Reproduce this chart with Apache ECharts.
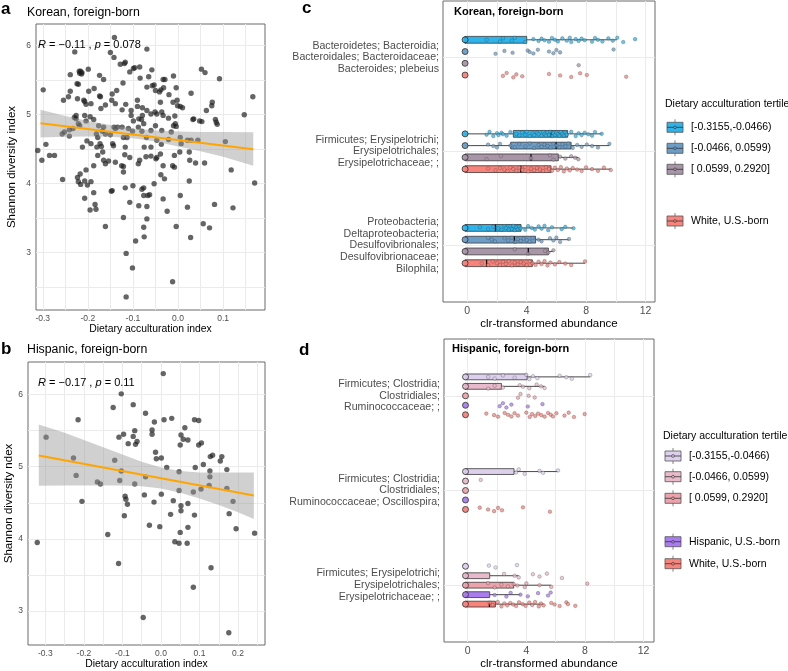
<!DOCTYPE html>
<html><head><meta charset="utf-8">
<script src="https://cdn.jsdelivr.net/npm/echarts@6/dist/echarts.min.js"></script>
<style>html,body{margin:0;padding:0;background:#fff}#c{width:788px;height:671px}</style>
</head><body><div id="c"></div>
<script>
// ---------------- DATA ----------------
// Panel a: Korean, foreign-born  [dietary acculturation index, Shannon diversity]
const koreanPoints = [
[-0.141,6.12],[-0.229,5.91],[-0.150,5.90],[-0.069,5.95],[-0.142,5.83],[-0.128,5.73],[-0.119,5.74],[-0.117,5.76],
[-0.099,5.67],[-0.096,5.68],[-0.107,5.62],[-0.199,5.66],[-0.239,5.58],[-0.219,5.63],[-0.216,5.63],[-0.213,5.61],
[-0.218,5.60],[-0.214,5.59],[-0.085,5.69],[-0.058,5.65],[-0.174,5.57],[-0.165,5.51],[-0.065,5.55],[-0.069,5.40],
[-0.084,5.53],[0.052,5.66],[0.060,5.61],[0.092,5.52],[-0.010,5.56],[-0.033,5.51],[-0.029,5.51],[-0.224,5.45],
[-0.221,5.44],[-0.186,5.38],[-0.239,5.34],[-0.299,5.36],[-0.136,5.35],[-0.146,5.30],[-0.122,5.46],[-0.053,5.43],
[-0.057,5.42],[-0.050,5.35],[-0.038,5.36],[-0.041,5.33],[-0.032,5.39],[-0.004,5.39],[-0.020,5.29],[0.029,5.31],
[-0.198,5.34],[-0.174,5.27],[-0.172,5.26],[-0.254,5.21],[-0.243,5.26],[-0.223,5.23],[-0.209,5.21],[-0.207,5.19],
[-0.193,5.16],[-0.161,5.14],[-0.147,5.21],[-0.139,5.16],[-0.116,5.15],[-0.090,5.21],[-0.090,5.12],[-0.171,5.09],
[-0.204,5.15],[-0.079,5.10],[-0.060,5.01],[-0.069,5.06],[-0.039,5.18],[-0.001,5.13],[0.005,5.12],[-0.002,5.21],
[-0.011,5.18],[0.010,5.10],[0.075,5.13],[0.076,5.18],[0.063,5.06],[-0.124,5.07],[-0.051,5.04],[-0.047,5.01],
[-0.104,5.06],[-0.104,4.99],[-0.079,4.99],[-0.099,4.91],[-0.081,4.93],[-0.036,5.04],[-0.033,4.99],[-0.021,4.95],
[-0.007,4.98],[0.033,4.93],[0.048,4.91],[0.147,5.00],[0.166,5.26],[0.083,4.93],[0.085,4.89],[0.087,4.86],
[-0.226,4.99],[-0.207,4.99],[-0.204,4.91],[-0.226,4.94],[-0.230,4.96],[-0.221,4.87],[-0.218,4.84],[-0.195,4.97],
[-0.187,4.93],[-0.176,4.84],[-0.212,4.53],[-0.257,4.72],[-0.252,4.75],[-0.241,4.78],[-0.233,4.80],[-0.165,4.82],
[-0.168,4.76],[-0.161,4.72],[-0.181,4.72],[-0.178,4.67],[-0.150,4.71],[-0.139,4.80],[-0.142,4.82],[-0.134,4.82],
[-0.124,4.82],[-0.121,4.67],[-0.110,4.80],[-0.101,4.76],[-0.088,4.82],[-0.080,4.76],[-0.076,4.87],[-0.087,4.94],
[-0.070,4.67],[-0.060,4.77],[-0.050,4.84],[-0.036,4.77],[-0.047,4.63],[-0.037,4.57],[-0.021,4.64],[-0.015,4.75],
[-0.010,4.84],[-0.006,4.87],[-0.004,4.83],[0.005,4.67],[0.007,4.58],[0.021,4.63],[0.029,4.63],[0.044,4.63],
[0.035,4.94],[0.053,4.90],[0.105,4.61],[-0.113,4.67],[-0.145,4.58],[-0.143,4.55],[-0.173,4.58],[-0.170,4.54],
[-0.193,4.58],[-0.180,4.53],[-0.202,4.62],[-0.241,4.69],[-0.293,4.57],[-0.311,4.48],[-0.302,4.34],[-0.285,4.41],
[-0.274,4.41],[-0.178,4.41],[-0.165,4.34],[-0.161,4.29],[-0.154,4.33],[-0.187,4.26],[-0.167,4.46],[-0.139,4.31],
[-0.125,4.26],[-0.121,4.25],[-0.118,4.42],[-0.107,4.38],[-0.121,4.17],[-0.117,4.53],[-0.088,4.29],[-0.085,4.34],
[-0.075,4.53],[-0.071,4.39],[-0.060,4.40],[-0.049,4.36],[-0.047,4.38],[-0.039,4.43],[-0.060,4.53],[-0.033,4.26],
[-0.038,4.13],[-0.030,4.07],[-0.008,4.41],[-0.012,4.26],[-0.008,4.24],[0.004,4.46],[0.025,4.46],[0.026,4.34],
[0.039,4.30],[-0.217,4.14],[-0.223,4.09],[-0.221,4.03],[-0.207,4.04],[-0.204,4.20],[-0.256,4.06],[-0.216,3.99],
[-0.201,3.98],[-0.193,4.03],[-0.187,3.87],[-0.207,3.79],[-0.184,3.70],[-0.195,3.62],[-0.182,3.63],[-0.148,3.89],
[-0.146,3.90],[-0.117,3.94],[-0.100,3.97],[-0.107,3.73],[-0.161,3.38],[-0.121,3.51],[-0.087,3.68],[-0.080,3.92],
[-0.076,3.94],[-0.069,3.67],[-0.076,3.83],[-0.067,3.83],[-0.063,3.84],[-0.053,4.00],[-0.069,3.49],[-0.076,3.37],
[-0.094,3.17],[-0.075,3.23],[-0.115,2.99],[-0.101,2.78],[-0.115,2.36],[-0.012,2.58],[-0.033,3.78],[-0.024,3.60],
[-0.004,3.38],[0.005,3.83],[0.021,3.66],[0.025,4.04],[0.028,3.22],[0.059,4.30],[0.081,3.70],[0.056,3.42],
[0.070,3.36],[0.122,3.65],[0.118,4.20],[0.170,4.01]
];
const koreanFit = [[-0.305,4.875],[0.167,4.50]];
const koreanBandX  = [-0.305,-0.25,-0.2,-0.15,-0.1,-0.05,0.0,0.05,0.1,0.167];
const koreanBandLo = [4.67,4.68,4.685,4.68,4.66,4.61,4.54,4.47,4.39,4.26];
const koreanBandHi = [5.07,4.98,4.91,4.85,4.80,4.77,4.755,4.75,4.75,4.745];
const koreanStat = ['R', ' = \u22120.11 , ', 'p', ' = 0.078'];

// Panel b: Hispanic, foreign-born
const hispanicPoints = [
[0.006,6.29],[-0.103,6.01],[-0.072,5.86],[-0.124,5.82],[-0.040,5.74],[-0.215,5.65],[-0.017,5.62],[0.008,5.65],
[0.028,5.67],[0.087,5.65],[0.098,5.64],[0.062,5.54],[-0.298,5.41],[-0.068,5.50],[-0.023,5.51],[-0.097,5.45],
[-0.023,5.45],[0.052,5.44],[-0.072,5.42],[-0.109,5.41],[0.058,5.38],[0.070,5.37],[-0.062,5.35],[-0.066,5.31],
[-0.085,5.32],[0.050,5.30],[0.098,5.30],[0.105,5.33],[-0.014,5.20],[-0.012,5.11],[0.001,5.12],[-0.120,5.09],
[0.128,5.14],[0.134,5.16],[0.110,5.03],[0.154,5.08],[0.158,5.14],[0.015,4.99],[0.089,4.99],[-0.227,5.12],
[-0.103,4.94],[0.047,4.93],[0.171,4.96],[0.127,4.94],[-0.220,4.88],[-0.040,4.86],[-0.107,4.81],[-0.165,4.79],
[-0.157,4.76],[-0.068,4.76],[0.127,4.86],[0.125,4.74],[0.104,4.69],[0.171,4.70],[0.084,4.65],[0.047,4.67],
[-0.043,4.61],[0.001,4.62],[0.032,4.53],[-0.018,4.51],[-0.205,4.52],[-0.093,4.59],[-0.091,4.55],[-0.087,4.48],
[0.052,4.46],[0.070,4.49],[0.187,4.52],[0.052,4.39],[-0.095,4.32],[0.025,4.34],[0.087,4.33],[0.177,4.35],
[-0.030,4.19],[-0.003,4.17],[0.070,4.16],[0.195,4.14],[0.243,4.08],[0.050,4.09],[-0.138,4.06],[-0.321,3.95],
[0.036,3.96],[0.047,3.94],[0.068,3.94],[-0.110,3.66],[0.130,3.60],[0.084,3.33],[-0.046,2.91],[0.176,2.70]
];
const hispanicFit = [[-0.317,5.156],[0.241,4.60]];
const hispanicBandX  = [-0.317,-0.25,-0.2,-0.15,-0.1,-0.05,0.0,0.05,0.1,0.15,0.2,0.241];
const hispanicBandLo = [4.736,4.74,4.74,4.74,4.74,4.73,4.70,4.64,4.56,4.47,4.37,4.275];
const hispanicBandHi = [5.585,5.47,5.37,5.27,5.17,5.07,4.99,4.94,4.92,4.92,4.92,4.92];
const hispanicStat = ['R', ' = \u22120.17 , ', 'p', ' = 0.11'];

// Panel c: Korean taxa
const cTaxa = [
  'Bacteroidetes; Bacteroidia;\nBacteroidales; Bacteroidaceae;\nBacteroides; plebeius',
  'Firmicutes; Erysipelotrichi;\nErysipelotrichales;\nErysipelotrichaceae; ;',
  'Proteobacteria;\nDeltaproteobacteria;\nDesulfovibrionales;\nDesulfovibrionaceae;\nBilophila;'
];
const cRowNames = ['[-0.3155,-0.0466)', '[-0.0466, 0.0599)', '[ 0.0599, 0.2920]', 'White, U.S.-born'];
const cColors = ['#2DB4EA', '#6C9DC6', '#A995A8', '#F8837B'];
// box stats per row: for each taxon [lower whisker, Q1, median, Q3, upper whisker]
const cBoxT1 = [[-0.15,-0.15,-0.15,4.0,10.07],[-0.15,3.1,5.64,6.76,9.06],[-0.15,-0.15,1.9,3.62,7.15]];
const cBoxT2 = [[-0.15,-0.15,-0.15,-0.15,-0.15],[-0.15,2.92,5.98,6.99,9.57],[-0.15,-0.15,3.17,4.6,6.85]];
const cBoxT3 = [[-0.15,-0.15,-0.15,-0.15,-0.15],[-0.15,-0.15,4.29,6.13,7.48],[-0.15,-0.15,4.11,5.46,5.8]];
const cBoxW  = [[-0.15,-0.15,-0.15,-0.15,-0.15],[-0.15,-0.15,3.6,5.64,9.66],[-0.15,-0.15,1.3,4.38,7.93]];
// non-zero observations per row per taxon (zeros shown as the cluster at -0.15)
const cPtsT1 = [
 [1.3,2.2,2.4,3.0,3.2,3.9,4.45,4.8,5.0,5.2,5.5,5.7,5.9,6.1,6.4,6.7,6.9,7.0,7.3,7.5,7.7,7.9,8.4,8.6,8.8,9.1,9.5,9.8,10.1,10.5,11.3],
 [1.3,1.5,1.75,2.0,2.1,2.3,2.4,2.65,2.9,3.3,3.5,3.7,3.9,4.0,4.2,4.4,4.5,4.7,4.8,5.0,5.1,5.2,5.3,5.4,5.5,5.6,5.7,5.8,5.9,6.0,6.1,6.2,6.3,6.4,6.5,6.6,6.7,7.0,7.3,7.5,7.7,7.9,8.15,8.4,8.6,9.05],
 [0.85,1.4,1.75,2.1,2.3,2.5,2.6,2.8,2.9,3.0,3.1,3.2,3.3,3.4,3.5,3.6,3.9,4.1,4.35,4.55,4.8,5.0,5.2,5.45,5.7,6.36,6.6,7.15]
];
const cPtsT2 = [
 [1.9,2.5,3.05,4.07,4.2,4.45,4.75,5.5,5.8,6.0,6.25,9.85],
 [1.4,1.75,2.0,2.2,2.9,3.2,3.5,3.9,4.2,4.5,4.8,5.0,5.2,5.4,5.6,5.8,6.0,6.2,6.4,6.6,6.8,7.1,7.4,7.7,8.05,8.4,8.8,9.57],
 [1.4,1.65,1.86,2.5,2.76,3.0,3.2,3.4,3.6,3.8,4.0,4.2,4.4,4.8,5.0,5.57,5.8,6.0,6.25,6.85]
];
const cPtsT3 = [
 [7.5],
 [1.3,2.27,4.29,5.57,5.8,6.25,6.6,7.0,7.26,7.48],
 [3.2,4.1,5.24,5.46,5.8]
];
const cPtsW = [
 [2.4,2.65,3.1,3.3,3.7,5.5,6.25,7.0,7.6,8.05,10.7],
 [1.4,1.9,2.2,2.5,2.7,2.9,3.1,3.3,3.5,3.7,3.9,4.1,4.3,4.5,4.7,4.9,5.1,5.3,5.5,5.7,5.9,6.1,6.3,6.5,6.7,6.9,7.1,7.4,7.7,8.0,8.4,8.8,9.2,9.66],
 [0.97,1.4,1.7,2.0,2.2,2.4,2.6,2.8,3.0,3.2,3.4,3.6,3.8,4.0,4.2,4.4,4.6,4.8,5.0,5.2,5.4,5.6,5.9,6.2,6.6,7.0,7.93]
];

// Panel d: Hispanic taxa
const dTaxa = [
  'Firmicutes; Clostridia;\nClostridiales;\nRuminococcaceae; ;',
  'Firmicutes; Clostridia;\nClostridiales;\nRuminococcaceae; Oscillospira;',
  'Firmicutes; Erysipelotrichi;\nErysipelotrichales;\nErysipelotrichaceae; ;'
];
const dRowNames = ['[-0.3155,-0.0466)', '[-0.0466, 0.0599)', '[ 0.0599, 0.2920]', 'Hispanic, U.S.-born', 'White, U.S.-born'];
const dColors = ['#DCD0EC', '#E8BACB', '#EDA3AC', '#A97DF0', '#F8837B'];
const dBoxT1 = [[-0.15,-0.15,-0.15,4.05,8.36],[-0.15,-0.15,-0.15,3.16,6.16],[-0.15,-0.15,-0.15,-0.15,-0.15]];
const dBoxT2 = [[-0.15,-0.15,-0.15,2.3,5.25],[-0.15,-0.15,-0.15,-0.15,-0.15],[-0.15,-0.15,-0.15,1.5,3.48]];
const dBoxT3 = [[-0.15,-0.15,-0.15,-0.15,-0.15],[-0.15,-0.15,-0.15,-0.15,-0.15],[-0.15,-0.15,-0.15,3.14,5.7]];
const dBoxH  = [[-0.15,-0.15,-0.15,-0.15,-0.15],[-0.15,-0.15,-0.15,-0.15,-0.15],[-0.15,-0.15,-0.15,1.5,3.6]];
const dBoxW  = [[-0.15,-0.15,-0.15,-0.15,-0.15],[-0.15,-0.15,-0.15,-0.15,-0.15],[-0.15,-0.15,1.48,1.89,5.18]];
const dPtsT1 = [[1.4,1.84,2.4,3.2,4.0,4.2,4.45,4.75,6.27,6.73,7.1,8.36],[3.3,3.48,3.89,4.9,5.14,6.16],[1.45,1.9,3.36]];
const dPtsT2 = [[1.4,1.84,2.4,3.55,3.77,4.2,4.7,5.0,5.25],[0.89],[2.48,3.2,3.48,4.45,4.9,5.4,6.43]];
const dPtsT3 = [[3.43,3.6,4.16,4.57],[],[1.39,1.84,2.3,2.75,3.14,3.39,3.89,4.0,4.9,5.7,8.16]];
const dPtsH  = [[2.18,2.4,2.64,2.98,4.1,5.1],[],[1.84,2.64,2.93,3.6,4.1,4.8,5.48,5.66]];
const dPtsW  = [
 [1.27,1.8,2.07,2.52,2.75,2.98,3.2,3.43,4.0,4.23,4.39,4.61,4.8,5.02,5.25,5.48,5.66,5.82,6.05,6.6,6.89,7.25,7.98],
 [0.82,1.39,1.8,2.07,2.34,3.77,5.61],
 [1.5,1.7,2.05,2.3,2.5,2.7,2.9,3.1,3.3,3.5,3.75,3.95,4.2,4.4,4.6,4.85,5.0,5.18,5.7,5.93,6.27,6.73,6.84,7.34]
];
const zeroValue = -0.15;

const aXTicks = [-0.3,-0.2,-0.1,0.0,0.1];
const bXTicks = [-0.3,-0.2,-0.1,0.0,0.1,0.2];
const abYTicks = [3,4,5,6];
const cdXTicks = [0,4,8,12];

// ---------------- CHART ----------------
const FONT = '"Liberation Sans", Arial, Helvetica, sans-serif';
const GRID_BORDER = '#6b6b6b';
const GRIDLINE = '#EBEBEB';
const chart = echarts.init(document.getElementById('c'), null, {renderer: 'canvas'});

// small fixed vertical spread pattern for overlapping dots (display only)
const SPREAD = [0, 0.018, -0.016, 0.009, -0.022, 0.024, -0.007, 0.013, -0.012, 0.004, 0.02, -0.019];

function halfSteps(ticks, lo, hi) {
  const out = [];
  const step = ticks[1] - ticks[0];
  for (let v = ticks[0] - step; v <= ticks[ticks.length - 1] + step + 1e-9; v += step / 2) {
    const r = Math.round(v * 1000) / 1000;
    if (r >= lo && r <= hi) out.push(r);
  }
  return out;
}

function valueXAxis(gridIndex, min, max, ticks, name, nameGap, labelSize, nameSize, fmt) {
  return {
    type: 'value', gridIndex, min, max,
    name, nameLocation: 'middle', nameGap,
    nameTextStyle: {color: '#000', fontSize: nameSize, fontFamily: FONT},
    axisLine: {show: false}, axisTick: {show: false, customValues: halfSteps(ticks, min, max)},
    axisLabel: {customValues: ticks, color: '#4D4D4D', fontSize: labelSize, margin: 4, fontFamily: FONT, formatter: fmt},
    splitLine: {show: true, lineStyle: {color: GRIDLINE, width: 1}}
  };
}

function scatterBlock(points, fit, bx, blo, bhi, idx) {
  const bandRender = function (params, api) {
    const pts = [];
    for (let i = 0; i < bx.length; i++) pts.push(api.coord([bx[i], bhi[i]]));
    for (let i = bx.length - 1; i >= 0; i--) pts.push(api.coord([bx[i], blo[i]]));
    return {type: 'polygon', shape: {points: pts}, style: {fill: 'rgba(150,150,150,0.45)'}};
  };
  return [
    {type: 'scatter', xAxisIndex: idx, yAxisIndex: idx, data: points, symbolSize: 5.4, z: 2,
     itemStyle: {color: 'rgba(30,30,30,0.85)', borderWidth: 0}, silent: true},
    {type: 'custom', xAxisIndex: idx, yAxisIndex: idx, data: [[bx[0], blo[0]]], renderItem: bandRender, z: 3, silent: true, clip: true},
    {type: 'line', xAxisIndex: idx, yAxisIndex: idx, data: fit, symbol: 'none', z: 4, silent: true,
     lineStyle: {color: '#FFA500', width: 2}}
  ];
}

function boxRenderer(halfH) {
  return function (params, api) {
    const lo = api.value(0), q1 = api.value(1), med = api.value(2), q3 = api.value(3), hi = api.value(4), pos = api.value(5);
    if (hi - lo < 1e-9) return null;
    const pLo = api.coord([lo, pos]), pQ1 = api.coord([q1, pos]), pMed = api.coord([med, pos]);
    const pQ3 = api.coord([q3, pos]), pHi = api.coord([hi, pos]);
    const y = pQ1[1];
    const fill = api.visual('color');
    const ch = [];
    if (pQ1[0] - pLo[0] > 0.5) ch.push({type: 'line', shape: {x1: pLo[0], y1: y, x2: pQ1[0], y2: y}, style: {stroke: '#333', lineWidth: 0.9}});
    if (pHi[0] - pQ3[0] > 0.5) ch.push({type: 'line', shape: {x1: pQ3[0], y1: y, x2: pHi[0], y2: y}, style: {stroke: '#333', lineWidth: 0.9}});
    ch.push({type: 'rect', shape: {x: pQ1[0], y: y - halfH, width: Math.max(pQ3[0] - pQ1[0], 0.5), height: 2 * halfH},
             style: {fill: fill, stroke: '#3a3a3a', lineWidth: 0.8}});
    ch.push({type: 'line', shape: {x1: pMed[0], y1: y - halfH, x2: pMed[0], y2: y + halfH}, style: {stroke: '#111', lineWidth: 1.3}});
    return {type: 'group', children: ch};
  };
}

function rowSeries(idx, boxes, pts, color, rowIdx, nRows, step, halfH, name) {
  const off = (rowIdx - (nRows - 1) / 2) * step;
  const boxData = boxes.map((b, g) => b.concat([g + 1 + off]));
  const ptData = [];
  const zeroData = [];
  pts.forEach((arr, g) => {
    zeroData.push([zeroValue, g + 1 + off]);
    arr.forEach((v, i) => ptData.push([v, g + 1 + off + SPREAD[(i + rowIdx * 5 + g * 3) % SPREAD.length]]));
  });
  return [
    {type: 'custom', name, xAxisIndex: idx, yAxisIndex: idx, data: boxData, z: 2, silent: true,
     dimensions: ['lo', 'q1', 'med', 'q3', 'hi', 'pos'], encode: {x: [0, 1, 2, 3, 4], y: 5},
     itemStyle: {color}, renderItem: boxRenderer(halfH)},
    {type: 'scatter', name, xAxisIndex: idx, yAxisIndex: idx, data: ptData, symbolSize: 3.6, z: 3, silent: true,
     itemStyle: {color, opacity: 0.75, borderColor: 'rgba(50,50,50,0.6)', borderWidth: 0.6}},
    {type: 'scatter', name, xAxisIndex: idx, yAxisIndex: idx, data: zeroData, symbolSize: 6, z: 4, silent: true,
     itemStyle: {color, opacity: 0.95, borderColor: 'rgba(40,40,40,0.8)', borderWidth: 1}}
  ];
}

function legendBlock(x0, titleY, keyYs, names, colors, labelX) {
  const els = [{type: 'text', x: x0 - 2, y: titleY, style: {text: 'Dietary acculturation tertile', fill: '#000', font: '10.5px ' + FONT, textVerticalAlign: 'middle'}}];
  keyYs.forEach((cy, i) => {
    els.push({type: 'line', shape: {x1: x0 + 8, y1: cy - 8, x2: x0 + 8, y2: cy + 8}, style: {stroke: '#666', lineWidth: 0.8}});
    els.push({type: 'rect', shape: {x: x0, y: cy - 5, width: 16, height: 10}, style: {fill: colors[i], stroke: '#555', lineWidth: 0.8}});
    els.push({type: 'line', shape: {x1: x0, y1: cy, x2: x0 + 16, y2: cy}, style: {stroke: '#333', lineWidth: 0.8}});
    els.push({type: 'circle', shape: {cx: x0 + 8, cy: cy, r: 1.4}, style: {fill: colors[i], stroke: '#333', lineWidth: 0.6}});
    els.push({type: 'text', x: labelX, y: cy, style: {text: names[i], fill: '#000', font: '10.5px ' + FONT, textVerticalAlign: 'middle'}});
  });
  return els;
}

function statText(x, y, parts) {
  return {type: 'text', x, y, style: {
    text: '{i|' + parts[0] + '}' + parts[1] + '{i|' + parts[2] + '}' + parts[3],
    font: '11px ' + FONT, fill: '#000', textVerticalAlign: 'middle',
    rich: {i: {fontStyle: 'italic', fontSize: 11, fontFamily: FONT, fill: '#000'}}}};
}

const fmt1 = v => v.toFixed(1);
const CSTEP = 0.125, DSTEP = 0.1;

const series = []
  .concat(scatterBlock(koreanPoints, koreanFit, koreanBandX, koreanBandLo, koreanBandHi, 0))
  .concat(scatterBlock(hispanicPoints, hispanicFit, hispanicBandX, hispanicBandLo, hispanicBandHi, 1))
  .concat(rowSeries(2, cBoxT1, cPtsT1, cColors[0], 0, 4, CSTEP, 3.4, cRowNames[0]))
  .concat(rowSeries(2, cBoxT2, cPtsT2, cColors[1], 1, 4, CSTEP, 3.4, cRowNames[1]))
  .concat(rowSeries(2, cBoxT3, cPtsT3, cColors[2], 2, 4, CSTEP, 3.4, cRowNames[2]))
  .concat(rowSeries(2, cBoxW,  cPtsW,  cColors[3], 3, 4, CSTEP, 3.4, cRowNames[3]))
  .concat(rowSeries(3, dBoxT1, dPtsT1, dColors[0], 0, 5, DSTEP, 2.9, dRowNames[0]))
  .concat(rowSeries(3, dBoxT2, dPtsT2, dColors[1], 1, 5, DSTEP, 2.9, dRowNames[1]))
  .concat(rowSeries(3, dBoxT3, dPtsT3, dColors[2], 2, 5, DSTEP, 2.9, dRowNames[2]))
  .concat(rowSeries(3, dBoxH,  dPtsH,  dColors[3], 3, 5, DSTEP, 2.9, dRowNames[3]))
  .concat(rowSeries(3, dBoxW,  dPtsW,  dColors[4], 4, 5, DSTEP, 2.9, dRowNames[4]));

const gridBase = {show: true, borderColor: GRID_BORDER, borderWidth: 1, backgroundColor: '#fff', containLabel: false, outerBoundsMode: 'none'};

function catYAxis(gridIndex, labels) {
  return {
    type: 'value', gridIndex, min: 0.4, max: 3.6, inverse: true,
    axisLine: {show: false}, axisTick: {show: false, customValues: [1, 2, 3]},
    axisLabel: {customValues: [1, 2, 3], color: '#4D4D4D', fontSize: 10.6, lineHeight: 11.7, margin: 4, align: 'right',
                fontFamily: FONT, formatter: v => labels[Math.round(v) - 1]},
    splitLine: {show: true, lineStyle: {color: GRIDLINE, width: 1}}
  };
}

function abYAxis(gridIndex, min, max, name, nameGap, tickVals) {
  return {type: 'value', gridIndex, min, max, name, nameLocation: 'middle', nameGap,
    nameTextStyle: {color: '#000', fontSize: 11.5, fontFamily: FONT},
    axisLine: {show: false}, axisTick: {show: false, customValues: tickVals},
    axisLabel: {customValues: abYTicks, color: '#4D4D4D', fontSize: 8.5, margin: 5, fontFamily: FONT},
    splitLine: {show: true, lineStyle: {color: GRIDLINE, width: 1}}};
}

const option = {
  animation: false,
  backgroundColor: '#fff',
  textStyle: {fontFamily: FONT},
  grid: [
    Object.assign({left: 36, top: 24, width: 229, height: 286}, gridBase),
    Object.assign({left: 28, top: 362, width: 237, height: 283}, gridBase),
    Object.assign({left: 443, top: 1, width: 212, height: 301}, gridBase),
    Object.assign({left: 444, top: 339, width: 210, height: 303}, gridBase)
  ],
  xAxis: [
    valueXAxis(0, -0.315, 0.193, aXTicks, 'Dietary acculturation index', 13, 8.5, 10.4, fmt1),
    valueXAxis(1, -0.345, 0.27, bXTicks, 'Dietary acculturation index', 10, 8.5, 10.4, fmt1),
    valueXAxis(2, -1.636, 12.64, cdXTicks, 'clr-transformed abundance', 11, 10.5, 11.5, v => String(v)),
    valueXAxis(3, -1.617, 12.71, cdXTicks, 'clr-transformed abundance', 13, 10.5, 11.5, v => String(v))
  ],
  yAxis: [
    abYAxis(0, 2.17, 6.314, 'Shannon diversity index', 18, [2.5,3,3.5,4,4.5,5,5.5,6]),
    abYAxis(1, 2.53, 6.451, 'Shannon diversity ndex', 12, [3,3.5,4,4.5,5,5.5,6]),
    catYAxis(2, cTaxa),
    catYAxis(3, dTaxa)
  ],
  series,
  graphic: [].concat(
    [
      {type: 'text', x: 1, y: 9, style: {text: 'a', font: 'bold 17px ' + FONT, fill: '#000', textVerticalAlign: 'middle'}},
      {type: 'text', x: 27, y: 12.5, style: {text: 'Korean, foreign-born', font: '12.3px ' + FONT, fill: '#000', textVerticalAlign: 'middle'}},
      {type: 'text', x: 1, y: 349, style: {text: 'b', font: 'bold 17px ' + FONT, fill: '#000', textVerticalAlign: 'middle'}},
      {type: 'text', x: 27, y: 350, style: {text: 'Hispanic, foreign-born', font: '12.3px ' + FONT, fill: '#000', textVerticalAlign: 'middle'}},
      {type: 'text', x: 302, y: 8, style: {text: 'c', font: 'bold 17px ' + FONT, fill: '#000', textVerticalAlign: 'middle'}},
      {type: 'text', x: 299, y: 350, style: {text: 'd', font: 'bold 17px ' + FONT, fill: '#000', textVerticalAlign: 'middle'}},
      {type: 'text', x: 454, y: 11.5, z: 100, style: {text: 'Korean, foreign-born', font: 'bold 11px ' + FONT, fill: '#000', textVerticalAlign: 'middle'}},
      {type: 'text', x: 452, y: 348.5, z: 100, style: {text: 'Hispanic, foreign-born', font: 'bold 11px ' + FONT, fill: '#000', textVerticalAlign: 'middle'}},
      Object.assign(statText(38, 45, koreanStat), {z: 100}),
      Object.assign(statText(38, 383, hispanicStat), {z: 100})
    ],
    legendBlock(667, 104, [127.3, 148.3, 169.3, 221], cRowNames, cColors, 691),
    legendBlock(665, 435.7, [456, 476.7, 498.3, 541.7, 563.7], dRowNames, dColors, 689)
  )
};
chart.setOption(option);
</script>
</body></html>
